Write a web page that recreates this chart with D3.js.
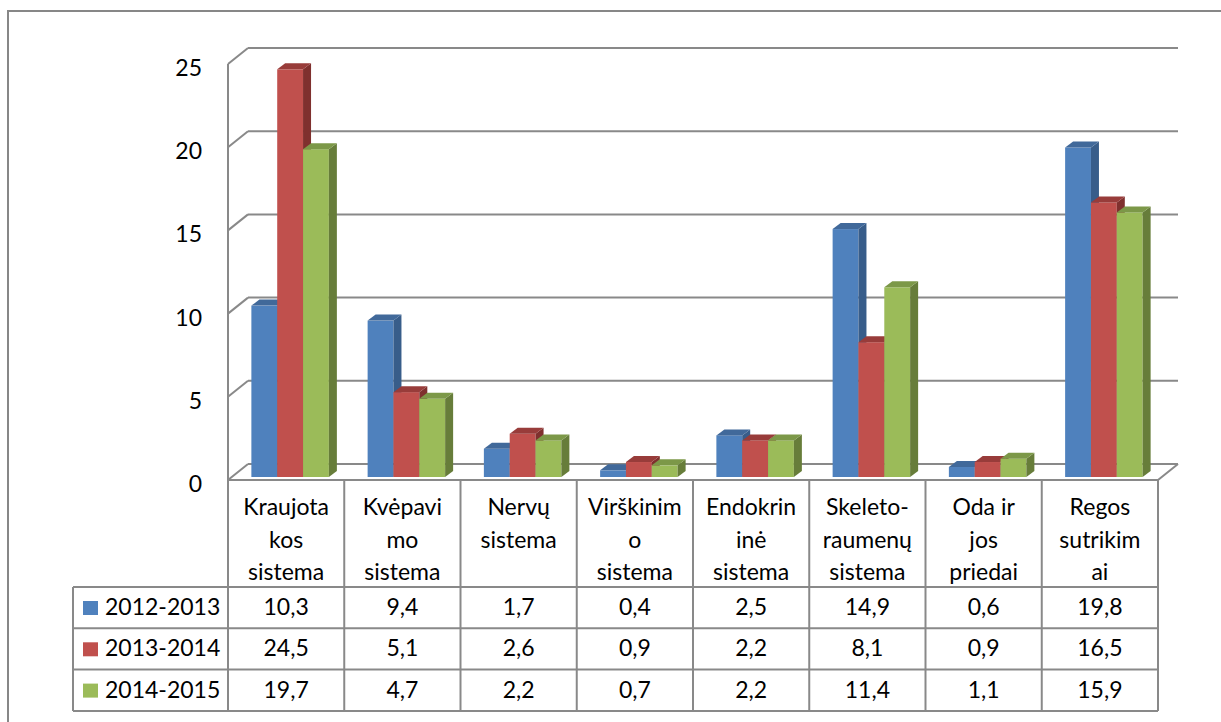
<!DOCTYPE html>
<html>
<head>
<meta charset="utf-8">
<script src="https://cdn.jsdelivr.net/npm/d3@7"></script>
<style>
  body { margin: 0; background: #fff; }
  text { font-family: Lato, "Noto Sans", sans-serif; fill: #000; }
</style>
</head>
<body>
<div id="chart"></div>
<script>
// Data
const categories = [
  ["Kraujota", "kos", "sistema"],
  ["Kvėpavi", "mo", "sistema"],
  ["Nervų", "sistema"],
  ["Virškinim", "o", "sistema"],
  ["Endokrin", "inė", "sistema"],
  ["Skeleto-", "raumenų", "sistema"],
  ["Oda ir", "jos", "priedai"],
  ["Regos", "sutrikim", "ai"]
];
const seriesNames = ["2012-2013", "2013-2014", "2014-2015"];
const values2012 = [10.3, 9.4, 1.7, 0.4, 2.5, 14.9, 0.6, 19.8];
const values2013 = [24.5, 5.1, 2.6, 0.9, 2.2, 8.1, 0.9, 16.5];
const values2014 = [19.7, 4.7, 2.2, 0.7, 2.2, 11.4, 1.1, 15.9];
const yTicks = [0, 5, 10, 15, 20, 25];

const seriesValues = [values2012, values2013, values2014];
const colors = [
  { front: "#4F81BD", side: "#385D8A", top: "#41699A" },
  { front: "#C0504D", side: "#7F302E", top: "#983C3A" },
  { front: "#9BBB59", side: "#677D3A", top: "#7C9848" }
];
const lineColor = "#898989";
const fontSize = "23px";

const width = 1221, height = 722;
const svg = d3.select("#chart").append("svg").attr("width", width).attr("height", height);

// plot geometry (front plane)
const left = 228, right = 1158;
const depthX = 20, depthY = -16;
const barOffX = 4, barOffY = -3;
const barDX = 8, barDY = -6;

const x0 = d3.scaleBand().domain(d3.range(categories.length)).range([left, right]).padding(0);
const x1 = d3.scaleBand().domain(d3.range(seriesNames.length))
  .range([0, x0.bandwidth()]).paddingInner(0).paddingOuter(0.75);
const y = d3.scaleLinear().domain([0, 25]).range([480, 64]);

// outer chart border
svg.append("path")
  .attr("d", `M8,${height + 5} L8,11 L${width + 5},11`)
  .attr("fill", "none").attr("stroke", "#878787").attr("stroke-width", 2);

// back wall gridlines + side wall
const grid = svg.append("g").attr("stroke", lineColor).attr("stroke-width", 2).attr("fill", "none");
yTicks.forEach((t) => {
  const yf = y(t);
  grid.append("line")
    .attr("x1", left + depthX).attr("y1", yf + depthY)
    .attr("x2", right + depthX).attr("y2", yf + depthY);
  grid.append("line")
    .attr("x1", left).attr("y1", yf)
    .attr("x2", left + depthX).attr("y2", yf + depthY);
});
grid.append("line").attr("x1", left).attr("y1", y(25)).attr("x2", left).attr("y2", y(0));
grid.append("line").attr("x1", right).attr("y1", y(0)).attr("x2", right + depthX).attr("y2", y(0) + depthY);

// y axis labels
svg.append("g").selectAll("text").data(yTicks).join("text")
  .attr("x", 202).attr("y", (d) => y(d) + 3)
  .attr("text-anchor", "end").attr("dominant-baseline", "central")
  .style("font-size", fontSize)
  .text((d) => d);

// bars
const bars = svg.append("g");
categories.forEach((c, i) => {
  seriesValues.forEach((vals, s) => {
    const v = vals[i];
    const bx = x0(i) + x1(s) + barOffX;
    const bw = x1.bandwidth();
    const by0 = y(0) + barOffY;
    const by1 = y(v) + barOffY;
    const g = bars.append("g");
    g.append("rect").attr("x", bx).attr("y", by1).attr("width", bw).attr("height", by0 - by1)
      .attr("fill", colors[s].front);
    g.append("path")
      .attr("d", `M${bx + bw},${by1} L${bx + bw + barDX},${by1 + barDY} L${bx + bw + barDX},${by0 + barDY} L${bx + bw},${by0} Z`)
      .attr("fill", colors[s].side);
    g.append("path")
      .attr("d", `M${bx},${by1} L${bx + barDX},${by1 + barDY} L${bx + bw + barDX},${by1 + barDY} L${bx + bw},${by1} Z`)
      .attr("fill", colors[s].top);
  });
});

// data table
const tableLeft = 73;
const headerTop = 480, rowTop = 587, rowH = 41.3;
const tbl = svg.append("g").attr("stroke", lineColor).attr("stroke-width", 2).attr("fill", "none");
const tableBottom = rowTop + rowH * seriesNames.length;

tbl.append("line").attr("x1", left).attr("y1", headerTop).attr("x2", right).attr("y2", headerTop);
d3.range(seriesNames.length + 1).forEach((r) => {
  const yy = rowTop + r * rowH;
  tbl.append("line").attr("x1", tableLeft).attr("y1", yy).attr("x2", right).attr("y2", yy);
});
tbl.append("line").attr("x1", tableLeft).attr("y1", rowTop).attr("x2", tableLeft).attr("y2", tableBottom);
d3.range(categories.length + 1).forEach((i) => {
  const xx = left + i * x0.step();
  tbl.append("line").attr("x1", xx).attr("y1", headerTop).attr("x2", xx).attr("y2", tableBottom);
});

// header labels
categories.forEach((lines, i) => {
  const cx = x0(i) + x0.bandwidth() / 2;
  svg.append("text")
    .attr("text-anchor", "middle")
    .style("font-size", fontSize)
    .selectAll("tspan").data(lines).join("tspan")
    .attr("x", cx).attr("y", (d, k) => 515 + k * 32.5)
    .text((d) => d);
});

// series rows
const fmt = (v) => v.toFixed(1).replace(".", ",");
seriesNames.forEach((name, s) => {
  const base = rowTop + s * rowH + 28;
  svg.append("rect")
    .attr("x", 83).attr("y", base - 14).attr("width", 15).attr("height", 14)
    .attr("fill", colors[s].front);
  svg.append("text").attr("x", 105).attr("y", base)
    .style("font-size", fontSize).text(name);
  seriesValues[s].forEach((v, i) => {
    svg.append("text")
      .attr("x", x0(i) + x0.bandwidth() / 2).attr("y", base)
      .attr("text-anchor", "middle")
      .style("font-size", fontSize)
      .text(fmt(v));
  });
});
</script>
</body>
</html>
